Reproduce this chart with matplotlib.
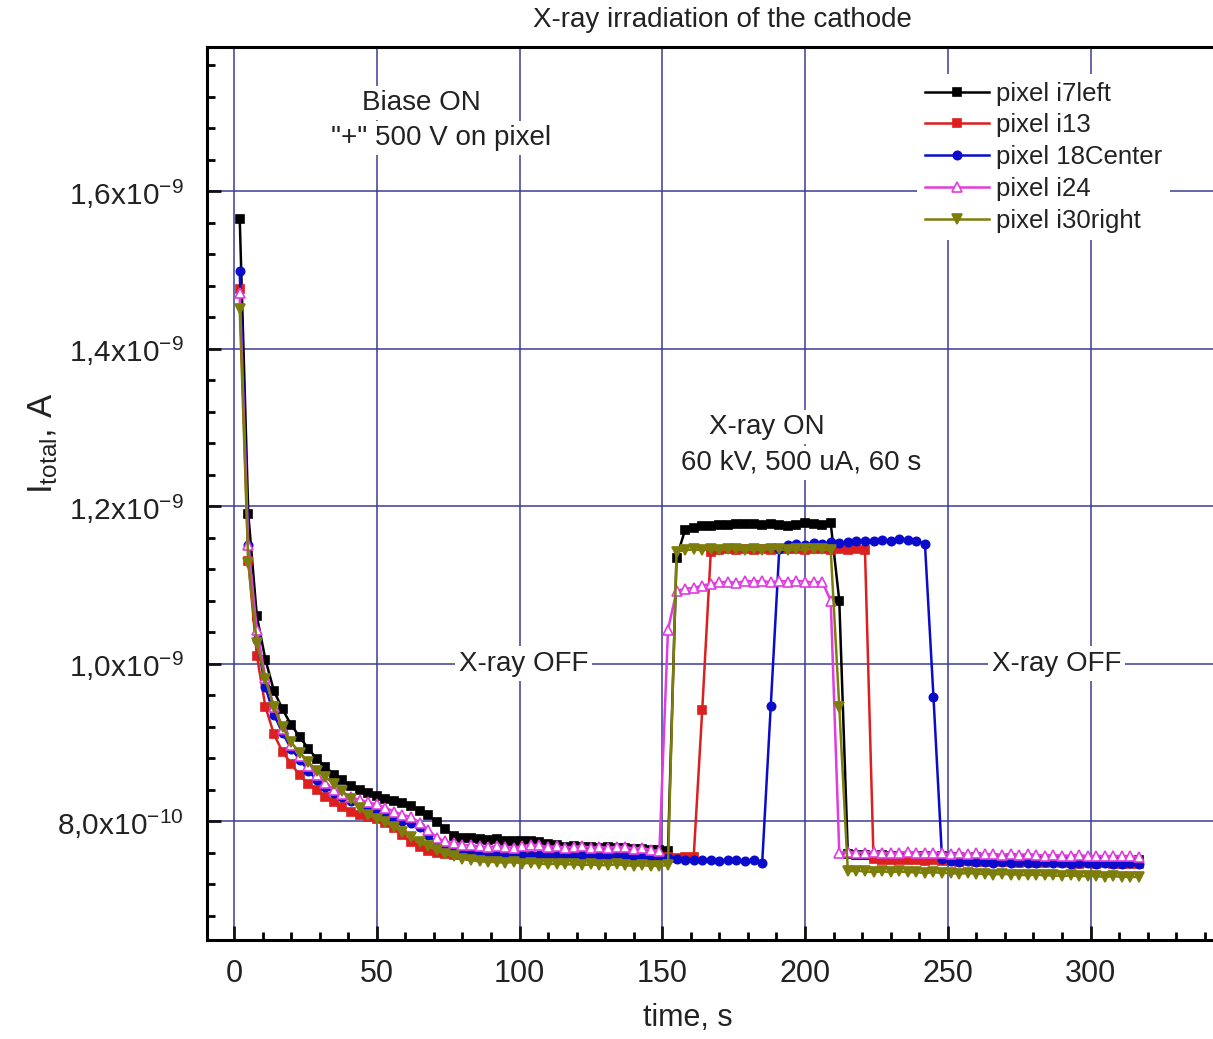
import numpy as np
import matplotlib
matplotlib.use("Agg")
import matplotlib.pyplot as plt
from matplotlib.ticker import MultipleLocator, FixedLocator, FixedFormatter

plt.rcParams['font.family'] = ['Liberation Sans', 'DejaVu Sans']
plt.rcParams['mathtext.fontset'] = 'custom'
plt.rcParams['mathtext.rm'] = 'Liberation Sans'
plt.rcParams['mathtext.it'] = 'Liberation Sans:italic'
plt.rcParams['mathtext.bf'] = 'Liberation Sans:bold'

# ---------------- data (current in units of 1e-10 A) ----------------
time_s = np.arange(2, 318, 3)   # sampling instants, s (106 samples)

i7left = [
    15.65, 11.90, 10.60, 10.05, 9.65, 9.42, 9.22, 9.07, 8.92, 8.79,
    8.69, 8.59, 8.52, 8.44, 8.39, 8.35, 8.32, 8.28, 8.25, 8.23,
    8.19, 8.13, 8.07, 7.99, 7.90, 7.81, 7.78, 7.78, 7.77, 7.76,
    7.77, 7.75, 7.75, 7.74, 7.75, 7.73, 7.71, 7.69, 7.67, 7.68,
    7.67, 7.67, 7.66, 7.67, 7.66, 7.66, 7.65, 7.64, 7.63, 7.63,
    7.62, 11.34, 11.70, 11.72, 11.74, 11.75, 11.76, 11.76, 11.77, 11.77,
    11.77, 11.76, 11.77, 11.76, 11.75, 11.76, 11.79, 11.77, 11.76, 11.78,
    10.80, 7.58, 7.57, 7.57, 7.56, 7.57, 7.56, 7.55, 7.56, 7.55,
    7.55, 7.54, 7.55, 7.54, 7.54, 7.53, 7.54, 7.53, 7.53, 7.52,
    7.53, 7.52, 7.52, 7.52, 7.51, 7.52, 7.51, 7.51, 7.50, 7.51,
    7.50, 7.51, 7.50, 7.50, 7.49, 7.50]

i13 = [
    14.75, 11.30, 10.10, 9.45, 9.10, 8.88, 8.73, 8.58, 8.47, 8.39,
    8.31, 8.24, 8.18, 8.12, 8.08, 8.05, 8.03, 7.97, 7.91, 7.82,
    7.73, 7.67, 7.62, 7.60, 7.58, 7.57, 7.57, 7.56, 7.56, 7.55,
    7.56, 7.55, 7.55, 7.56, 7.55, 7.54, 7.55, 7.55, 7.54, 7.55,
    7.54, 7.55, 7.54, 7.54, 7.55, 7.54, 7.53, 7.54, 7.54, 7.53,
    7.54, 7.53, 7.54, 7.54, 9.41, 11.42, 11.44, 11.45, 11.44, 11.45,
    11.44, 11.45, 11.44, 11.45, 11.46, 11.45, 11.44, 11.45, 11.45, 11.44,
    11.45, 11.44, 11.45, 11.44, 7.52, 7.51, 7.50, 7.51, 7.50, 7.50,
    7.49, 7.50, 7.49, 7.49, 7.48, 7.49, 7.48, 7.48, 7.49, 7.48,
    7.48, 7.47, 7.48, 7.47, 7.47, 7.48, 7.47, 7.47, 7.46, 7.47,
    7.46, 7.47, 7.46, 7.46, 7.46, 7.45]

c18 = [
    14.98, 11.50, 10.30, 9.70, 9.35, 9.12, 8.92, 8.78, 8.64, 8.52,
    8.43, 8.36, 8.30, 8.25, 8.21, 8.17, 8.12, 8.07, 8.03, 8.00,
    7.97, 7.92, 7.82, 7.72, 7.67, 7.64, 7.62, 7.60, 7.59, 7.58,
    7.57, 7.58, 7.57, 7.57, 7.56, 7.57, 7.57, 7.56, 7.57, 7.56,
    7.57, 7.56, 7.56, 7.57, 7.56, 7.56, 7.55, 7.56, 7.56, 7.55,
    7.53, 7.52, 7.50, 7.51, 7.50, 7.51, 7.49, 7.50, 7.50, 7.49,
    7.51, 7.47, 9.46, 11.46, 11.50, 11.52, 11.51, 11.53, 11.52, 11.54,
    11.53, 11.54, 11.55, 11.56, 11.55, 11.57, 11.56, 11.58, 11.57, 11.56,
    11.52, 9.57, 7.52, 7.49, 7.48, 7.49, 7.48, 7.48, 7.47, 7.48,
    7.47, 7.48, 7.47, 7.47, 7.48, 7.47, 7.47, 7.46, 7.47, 7.47,
    7.46, 7.47, 7.46, 7.46, 7.47, 7.46]

i24 = [
    14.70, 11.50, 10.43, 9.82, 9.45, 9.17, 8.97, 8.83, 8.70, 8.58,
    8.48, 8.40, 8.34, 8.30, 8.27, 8.24, 8.21, 8.17, 8.12, 8.08,
    8.05, 7.98, 7.89, 7.79, 7.74, 7.72, 7.70, 7.69, 7.68, 7.67,
    7.68, 7.67, 7.66, 7.68, 7.70, 7.69, 7.67, 7.68, 7.66, 7.67,
    7.68, 7.66, 7.67, 7.66, 7.67, 7.67, 7.65, 7.66, 7.63, 7.62,
    10.43, 10.92, 10.95, 10.96, 10.99, 11.01, 11.03, 11.04, 11.02, 11.05,
    11.04, 11.05, 11.03, 11.05, 11.04, 11.05, 11.04, 11.03, 11.04, 10.80,
    7.60, 7.61, 7.60, 7.60, 7.61, 7.60, 7.59, 7.60, 7.61, 7.60,
    7.59, 7.60, 7.59, 7.58, 7.59, 7.58, 7.59, 7.58, 7.58, 7.57,
    7.58, 7.57, 7.58, 7.57, 7.56, 7.57, 7.56, 7.56, 7.57, 7.55,
    7.56, 7.55, 7.56, 7.55, 7.55, 7.54]

i30right = [
    14.50, 11.28, 10.26, 9.80, 9.45, 9.20, 9.00, 8.87, 8.75, 8.64,
    8.56, 8.47, 8.38, 8.28, 8.16, 8.08, 8.03, 7.99, 7.93, 7.86,
    7.80, 7.73, 7.68, 7.63, 7.58, 7.55, 7.52, 7.50, 7.49, 7.48,
    7.48, 7.47, 7.48, 7.46, 7.47, 7.46, 7.45, 7.46, 7.45, 7.45,
    7.44, 7.45, 7.44, 7.44, 7.45, 7.44, 7.43, 7.44, 7.43, 7.43,
    7.44, 11.42, 11.44, 11.45, 11.44, 11.45, 11.44, 11.46, 11.45, 11.44,
    11.45, 11.44, 11.46, 11.45, 11.44, 11.45, 11.45, 11.46, 11.45, 11.44,
    9.45, 7.36, 7.37, 7.36, 7.35, 7.36, 7.35, 7.36, 7.35, 7.35,
    7.34, 7.35, 7.34, 7.34, 7.33, 7.34, 7.33, 7.33, 7.32, 7.33,
    7.32, 7.32, 7.31, 7.32, 7.31, 7.31, 7.30, 7.31, 7.30, 7.30,
    7.30, 7.29, 7.30, 7.29, 7.29, 7.29]

series_labels = ['pixel i7left', 'pixel i13', 'pixel 18Center', 'pixel i24', 'pixel i30right']
ytick_vals = [0.8e-9, 1.0e-9, 1.2e-9, 1.4e-9, 1.6e-9]
ytick_labels = [r'8,0x10$^{\mathregular{-10}}$', r'1,0x10$^{\mathregular{-9}}$',
                r'1,2x10$^{\mathregular{-9}}$', r'1,4x10$^{\mathregular{-9}}$',
                r'1,6x10$^{\mathregular{-9}}$']

# ---------------- figure ----------------
W, H = 1213, 1039
fig = plt.figure(figsize=(W / 100, H / 100), dpi=100)
ax = fig.add_axes([207 / W, (H - 940) / H, 1006 / W, 893 / H])

styles = [
    dict(color='#000000', marker='s', ms=5.5, mfc='#000000'),
    dict(color='#dc1f1f', marker='s', ms=5.5, mfc='#dc1f1f'),
    dict(color='#0b0bcc', marker='o', ms=6, mfc='#0b0bcc'),
    dict(color='#e03ce0', marker='^', ms=7, mfc='white'),
    dict(color='#7d7d0c', marker='v', ms=7, mfc='#7d7d0c'),
]
data = [i7left, i13, c18, i24, i30right]
handles = []
for lab, vals, st in zip(series_labels, data, styles):
    h, = ax.plot(time_s, np.array(vals) * 1e-10, color=st['color'], lw=1.8,
                 marker=st['marker'], ms=st['ms'], mfc=st['mfc'],
                 mec=st['color'], mew=1.2, label=lab, zorder=3)
    handles.append(h)

ax.set_xlim(-9.46, 342.9)
ax.set_ylim(0.6489e-9, 1.7829e-9)

ax.xaxis.set_major_locator(MultipleLocator(50))
ax.xaxis.set_minor_locator(MultipleLocator(10))
ax.yaxis.set_major_locator(FixedLocator(ytick_vals))
ax.yaxis.set_major_formatter(FixedFormatter(ytick_labels))
ax.yaxis.set_minor_locator(MultipleLocator(0.04e-9))

ax.grid(which='major', color='#3c3c96', lw=1.1)
ax.set_axisbelow(True)

for s in ['left', 'bottom', 'top']:
    ax.spines[s].set_linewidth(2.2)
ax.spines['right'].set_visible(False)

ax.tick_params(which='major', direction='in', length=10, width=2, top=False, right=False,
               colors='#111111')
ax.tick_params(which='minor', direction='in', length=6, width=2, top=False, right=False)
ax.tick_params(axis='x', which='major', labelsize=22, pad=14, labelcolor='#222222')
ax.tick_params(axis='y', which='major', labelsize=21.5, pad=17, labelcolor='#222222')

ax.set_xlabel('time, s', fontsize=22, color='#222222')
ax.xaxis.set_label_coords((688 - 207) / 1006, (940 - 1003) / 893)
ax.xaxis.label.set_verticalalignment('top')
ax.set_ylabel(r'I$_{\mathregular{total}}$, A', fontsize=25, color='#222222')
ax.yaxis.set_label_coords((60 - 207) / 1006, (940 - 443) / 893)

fig.text(722 / W, 1 - 20 / H, 'X-ray irradiation of the cathode', ha='center', va='center',
         fontsize=20, color='#222222')

box = dict(facecolor='white', edgecolor='none', pad=3)
ax.text(65.8, 1.712e-9, 'Biase ON', ha='center', va='center',
        fontsize=20, color='#222222', bbox=box, zorder=4)
ax.text(72.5, 1.667e-9, '"+" 500 V on pixel', ha='center', va='center',
        fontsize=20, color='#222222', bbox=box, zorder=4)
ax.text(186.7, 1.300e-9, 'X-ray ON', ha='center', va='center', fontsize=20,
        color='#222222', bbox=box, zorder=4)
ax.text(198.5, 1.255e-9, '60 kV, 500 uA, 60 s', ha='center', va='center', fontsize=20,
        color='#222222', bbox=box, zorder=4)
ax.text(101.4, 1.0e-9, 'X-ray OFF', ha='center', va='center', fontsize=20,
        color='#222222', bbox=box, zorder=4)
ax.text(288.1, 1.0e-9, 'X-ray OFF', ha='center', va='center', fontsize=20,
        color='#222222', bbox=box, zorder=4)

leg = ax.legend(handles=handles, loc='upper left',
                bbox_to_anchor=(917 / W, 1 - 74 / H), bbox_transform=fig.transFigure,
                fontsize=18.5, frameon=True, framealpha=1, fancybox=False,
                handlelength=2.5, handletextpad=0.27, labelspacing=0.30,
                borderpad=0.3, borderaxespad=0)
leg.get_frame().set_edgecolor('white')
leg.get_frame().set_linewidth(0)
leg.set_zorder(5)
for t in leg.get_texts():
    t.set_color('#222222')

fig.savefig('out.png', dpi=100)
